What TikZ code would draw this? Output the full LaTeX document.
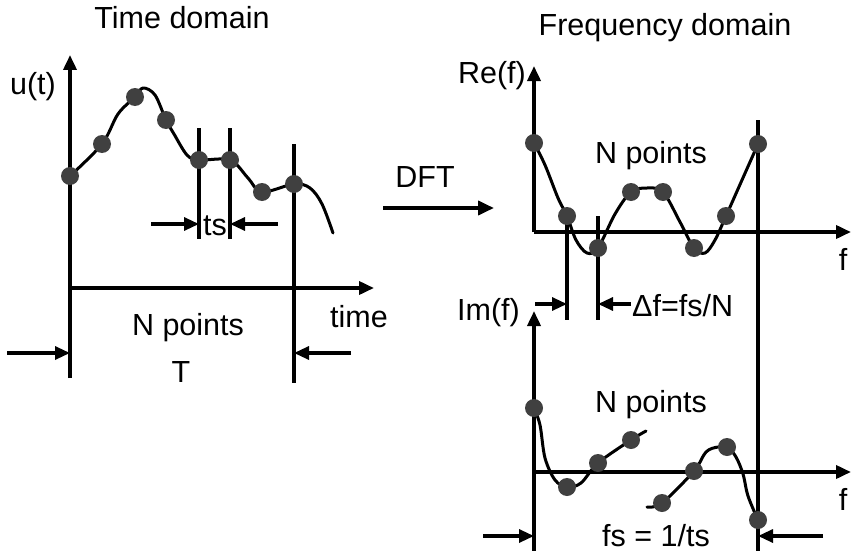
\documentclass[tikz,border=0pt]{standalone}
\usepackage{fontspec}
\setmainfont{Liberation Sans}
\usetikzlibrary{arrows.meta}
\definecolor{dotgray}{HTML}{404040}
\tikzset{
  axis/.style={line width=3.6pt,-{Triangle[length=15pt,width=13pt]}},
  dimarr/.style={line width=3.2pt,-{Triangle[length=15pt,width=13pt]}},
  curve/.style={line width=3pt,line join=round,line cap=round},
  vline/.style={line width=3.2pt},
  dot/.style={circle,fill=dotgray,inner sep=0pt,minimum size=18pt},
  lbl/.style={font=\fontsize{30.5}{36}\selectfont,inner sep=0pt,anchor=base}
}
\begin{document}
\begin{tikzpicture}[x=1pt,y=-1pt]
\useasboundingbox (0,0) rectangle (851,551);
% ---------------- Time domain ----------------
\node[lbl] (tdom) at (182,29) {Time domain};
\coordinate (uo) at (70,288);
\coordinate (ubot) at (70,378);
\coordinate (utop) at (70,55);
\coordinate (tend) at (374,288);
\draw[line width=3.6pt] (ubot) -- (uo);
\draw[axis] (uo) -- (utop);
\draw[axis] (uo) -- (tend);
\node[lbl,anchor=base east] (ut) at (56,95) {u(t)};
\node[lbl] (time) at (359,327) {time};
\node[lbl] (np1) at (188,335) {N points};
\node[lbl] (T) at (181,382) {T};
% vertical lines
\coordinate (v1t) at (199,128); \coordinate (v1b) at (199,239);
\coordinate (v2t) at (230,128); \coordinate (v2b) at (230,239);
\coordinate (v3t) at (294,144); \coordinate (v3b) at (294,383);
\draw[vline] (v1t) -- (v1b);
\draw[vline] (v2t) -- (v2b);
\draw[vline] (v3t) -- (v3b);
% curve
\draw[curve] plot[smooth,tension=0.55] coordinates {(70,176) (102,144) (118,114) (135,97) (143,88) (155,95) (166,120) (174,134) (187,155) (199,160) (230,160) (248,178) (262,192) (294,184) (310,188) (322,204) (333,233)};
\foreach \n/\p in {a1/{(70,176)},a2/{(102,144)},a3/{(135,97)},a4/{(166,120)},a5/{(199,160)},a6/{(230,160)},a7/{(262,192)},a8/{(294,184)}}
  \node[dot] (\n) at \p {};
% ts arrows
\coordinate (tsl) at (151,224); \coordinate (tsla) at (199,224);
\coordinate (tsr) at (278,224); \coordinate (tsra) at (230,224);
\draw[dimarr] (tsl) -- (tsla);
\draw[dimarr] (tsr) -- (tsra);
\node[lbl] (ts) at (215,235) {ts};
% T arrows
\coordinate (Tl) at (7,353); \coordinate (Tla) at (70,353);
\coordinate (Tr) at (351,353); \coordinate (Tra) at (294,353);
\draw[dimarr] (Tl) -- (Tla);
\draw[dimarr] (Tr) -- (Tra);
% ---------------- DFT ----------------
\coordinate (dfts) at (383,208); \coordinate (dfte) at (494,208);
\draw[line width=3.8pt,-{Triangle[length=16pt,width=14pt]}] (dfts) -- (dfte);
\node[lbl] (dft) at (425,187) {DFT};
% ---------------- Frequency domain ----------------
\node[lbl] (fdom) at (665,36) {Frequency domain};
% Re axes
\coordinate (ro) at (534,232);
\coordinate (rtop) at (534,66);
\coordinate (rend) at (851,232);
\draw[axis] (ro) -- (rtop);
\draw[axis] (ro) -- (rend);
\node[lbl,anchor=base east] (ref) at (526,83) {Re(f)};
\node[lbl] (f1) at (843,270) {f};
\node[lbl] (np2) at (651,163) {N points};
% vertical lines
\coordinate (w1t) at (567,213); \coordinate (w1b) at (567,320);
\coordinate (w2t) at (598,216); \coordinate (w2b) at (598,320);
\coordinate (w3t) at (758,120); \coordinate (w3b) at (758,551);
\draw[vline] (w1t) -- (w1b);
\draw[vline] (w2t) -- (w2b);
\draw[vline] (w3t) -- (w3b);
\draw[curve] plot[smooth,tension=0.55] coordinates {(534,143) (545,165) (558,198) (567,216) (576,240) (587,253) (598,248) (615,214) (631,192) (647,188) (663,192) (680,222) (694,248) (705,253) (715,240) (726,216) (742,180) (758,144)};
\foreach \n/\p in {b1/{(534,143)},b2/{(567,216)},b3/{(598,248)},b4/{(631,192)},b5/{(663,192)},b6/{(694,248)},b7/{(726,216)},b8/{(758,144)}}
  \node[dot] (\n) at \p {};
% delta f arrows
\coordinate (dfl) at (535,304); \coordinate (dfla) at (567,304);
\coordinate (dfr) at (631,304); \coordinate (dfra) at (598,304);
\draw[dimarr] (dfl) -- (dfla);
\draw[dimarr] (dfr) -- (dfra);
\node[lbl,anchor=base west] (delf) at (632,316) {Δf=fs/N};
% Im axes
\coordinate (io) at (534,472);
\coordinate (ibot) at (534,551);
\coordinate (itop) at (534,311);
\coordinate (iend) at (851,472);
\draw[line width=3.6pt] (ibot) -- (io);
\draw[axis] (io) -- (itop);
\draw[axis] (io) -- (iend);
\node[lbl,anchor=base east] (imf) at (520,320) {Im(f)};
\node[lbl] (f2) at (843,510) {f};
\node[lbl] (np3) at (651,412) {N points};
\draw[curve] plot[smooth,tension=0.55] coordinates {(534,408) (540,425) (545,458) (555,480) (567,487) (581,483) (598,463) (631,440) (646,431)};
\draw[curve] plot[smooth,tension=0.55] coordinates {(647,507) (662,503) (694,471) (706,452) (718,447) (728,448) (736,457) (743,474) (748,496) (758,520)};
\foreach \n/\p in {c1/{(534,408)},c2/{(567,487)},c3/{(598,463)},c4/{(631,440)},c5/{(662,503)},c6/{(694,471)},c7/{(727,447)},c8/{(758,520)}}
  \node[dot] (\n) at \p {};
% fs arrows
\coordinate (fsl) at (483,536); \coordinate (fsla) at (534,536);
\coordinate (fsr) at (823,536); \coordinate (fsra) at (758,536);
\draw[dimarr] (fsl) -- (fsla);
\draw[dimarr] (fsr) -- (fsra);
\node[lbl] (fs) at (656,546) {fs = 1/ts};
\end{tikzpicture}
\end{document}
